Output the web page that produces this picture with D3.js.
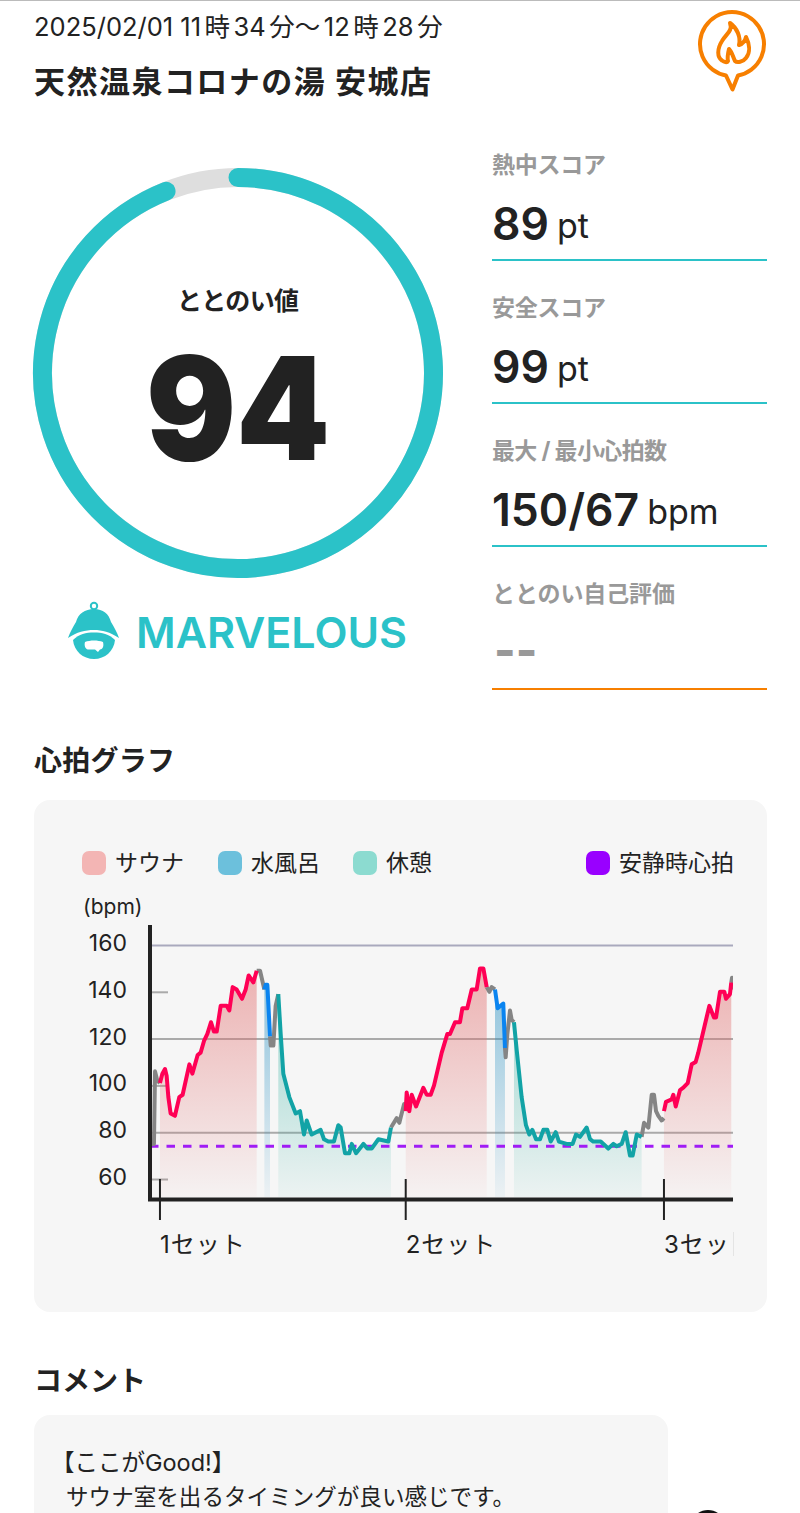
<!DOCTYPE html>
<html>
<head>
<meta charset="utf-8">
<script src="https://cdnjs.cloudflare.com/ajax/libs/d3/7.8.5/d3.min.js"></script>
<style>
html, body { margin: 0; padding: 0; background: #fff; }
svg { display: block; }
text { font-family: Inter, "Noto Sans CJK JP", sans-serif; fill: #222; }
</style>
</head>
<body>
<svg id="page" width="800" height="1513"></svg>
<script>
// header + scores
var dateParts = ["2025/02/01 11", "時", "34", "分〜", "12", "時", "28", "分"]
var placeName = "天然温泉コロナの湯 安城店"
var ringValue = 94
var ringLabel = "ととのい値"
var rankLabel = "MARVELOUS"
var scoreLabels = ["熱中スコア", "安全スコア", "最大 / 最小心拍数", "ととのい自己評価"]
var scoreValues = ["89", "99", "150/67", "--"]
var scoreUnits = ["pt", "pt", "bpm", ""]

// heart rate, [minutes since start, bpm]
var gray0 = [[0,75],[.33,75],[.42,106],[.61,102],[.83,101]]
var sauna1 = [[.83,101],[1.03,105],[1.25,107],[1.39,104],[1.53,95],[1.72,88],[2.08,87],[2.44,95],[2.72,96],[3.28,109],[3.53,105],[3.97,113],[4.22,114],[4.5,119],[4.78,122],[5.08,127],[5.33,123],[5.56,123],[5.89,134],[6.39,134],[6.61,132],[6.89,142],[7.22,141],[7.67,137],[7.97,141],[8.22,147],[8.61,144],[8.89,149]]
var gray1 = [[8.89,149],[9.17,149],[9.53,141]]
var cold1 = [[9.53,141],[9.64,143],[9.78,143],[10,121]]
var gray2 = [[10,121],[10.06,117],[10.28,117],[10.47,134],[10.69,139]]
var rest1 = [[10.69,139],[10.89,122],[11.11,105],[11.61,95],[12.14,88],[12.5,89],[12.83,79],[13.06,85],[13.47,79],[14.22,81],[14.5,77],[14.86,76],[15.33,76],[15.69,83],[15.89,82],[16.25,71],[16.61,71],[16.81,75],[17.17,71],[17.78,75],[18.11,73],[18.47,73],[19.03,77],[19.86,76],[20.08,82]]
var gray3 = [[20.08,82],[20.56,86],[20.78,84],[21.17,92],[21.31,92]]
var sauna2 = [[21.31,89],[21.39,97],[21.61,89],[21.81,96],[22.17,91],[22.78,99],[23.06,96],[23.39,96],[23.67,100],[24.31,114],[24.78,122],[25,122],[25.42,127],[25.83,127],[26.03,133],[26.44,133],[26.81,141],[27.22,141],[27.5,150],[27.78,150],[28.06,142]]
var gray4 = [[28.06,142],[28.28,140],[28.47,142],[28.75,141]]
var cold2 = [[28.75,141],[28.97,133],[29.44,135],[29.58,116]]
var gray5 = [[29.58,116],[29.64,112],[29.78,122],[30,132],[30.14,128],[30.33,127]]
var rest2 = [[30.33,127],[30.56,115],[30.97,95],[31.33,83],[31.61,79],[31.86,81],[32.17,77],[32.5,77],[32.78,81],[33.11,81],[33.39,76],[33.81,80],[34.08,76],[34.72,75],[35.22,75],[35.5,79],[35.83,78],[36.39,82],[36.67,77],[36.94,76],[37.56,76],[38.19,73],[38.61,75],[38.89,74],[39.31,75],[39.64,80],[40,70],[40.22,70],[40.56,79],[40.97,78]]
var gray6 = [[40.97,78],[41.17,84],[41.53,82],[41.81,96],[42,96],[42.17,89],[42.36,87],[42.64,85],[42.83,86]]
var sauna3 = [[42.83,89],[43,93],[43.47,94],[43.61,96],[43.81,91],[44.17,98],[44.44,99],[44.81,101],[45.14,109],[45.47,110],[45.69,114],[46.61,134],[47,129],[47.17,129],[47.5,140],[47.86,140],[48,137],[48.33,139],[48.44,144]]
var gray7 = [[48.44,144],[48.5,146],[48.61,141]]

var saunaPhases = [sauna1, sauna2, sauna3]
var coldPhases = [cold1, cold2]
var restPhases = [rest1, rest2]
var otherPhases = [gray0, gray1, gray2, gray3, gray4, gray5, gray6, gray7]

var restingHr = 74
var setStarts = [.83, 21.31, 42.83]
var setLabels = ["1セット", "2セット", "3セット"]
var gridTicks = [160, 120, 80]
var minorTicks = [140, 100, 60]
var yTickLabels = [160, 140, 120, 100, 80, 60]
var legendLabels = ["サウナ", "水風呂", "休憩", "安静時心拍"]
var legendColors = ["#f3b5b4", "#6cc0dc", "#8cdbd0", "#9900ff"]

var TEAL = "#2bc2c8"
var svg = d3.select("#page")

function label(x, y, str, size, weight, color, anchor) {
    return svg.append("text")
        .attr("x", x).attr("y", y)
        .attr("font-size", size)
        .attr("font-weight", weight || 400)
        .attr("text-anchor", anchor || "start")
        .style("fill", color || "#222")
        .text(str)
}

function drawHeader() {
    svg.append("rect").attr("width", 800).attr("height", 1).attr("fill", "#bbb")

    var date = label(34, 36, "", 25.5, 400, "#222")
    date.selectAll("tspan").data(dateParts).join("tspan")
        .attr("dx", function(d, i) { return i ? 3.5 : 0 })
        .text(function(d) { return d })

    label(34, 93, placeName, 31, 700, "#222").attr("textLength", 397)

    // flame badge
    var badge = svg.append("g").attr("fill", "none").attr("stroke", "#f77f00")
        .attr("stroke-width", 4).attr("stroke-linejoin", "round").attr("stroke-linecap", "round")
    badge.append("path").attr("d", "M726 75.5A32 32 0 1 1 738 75.5L732.5 89.5Z")
    badge.append("path").attr("d", "M730 23C733 31 726 34 722 41C717 49 717 57 722 60.5C724 62 727 63 728 61C727 57 728 53 729 49C732 52 733 57 735 61C737 63 743 62 746 58C751 52 749 43 746 37C745 42 742 44 739 45C741 37 737 28 730 23Z")
}

function ringPath(value, angle) {
    var p = d3.path()
    p.arc(0, 0, 195.5, -Math.PI / 2, -Math.PI / 2 + angle(value))
    return p.toString()
}

function drawRing() {
    var cx = 238, cy = 373
    var angle = d3.scaleLinear().domain([0, 100]).range([0, 2 * Math.PI])
    var g = svg.append("g").attr("transform", "translate(" + cx + "," + cy + ")")
        .attr("fill", "none").attr("stroke-width", 19).attr("stroke-linecap", "round")

    g.append("circle").attr("r", 195.5).attr("stroke", "#dedede")
    g.append("path").attr("stroke", TEAL).attr("d", ringPath(ringValue, angle))

    label(cx, 310, ringLabel, 25, 700, "#222", "middle").attr("textLength", 122)
    label(cx, 460, ringValue, 143, 900, "#222", "middle").attr("textLength", 184).attr("lengthAdjust", "spacingAndGlyphs")

    // mascot
    var m = svg.append("g").attr("fill", TEAL)
    m.append("circle").attr("cx", 94).attr("cy", 606).attr("r", 3.2).attr("fill", "none").attr("stroke", TEAL).attr("stroke-width", 2)
    m.append("path").attr("d", "M94 609C103 609 109 614 111 622C114 627 117 632 119 638C110 632 102 630 94 630C85 630 77 632 68 638C70 632 73 627 76 622C78 614 85 609 94 609Z")
    m.append("path").attr("d", "M73 640C79 634 86 632.5 94 632.5C102 632.5 109 634 115 640C114 651 105 659 94 659C83 659 74 651 73 640Z")
    m.append("path").attr("fill", "#fff").attr("d", "M85 642C90 640 98 640 103 642C104 646 103 649 100 649.5L98 652L95 649.5L88 649.5C85 649 84 645 85 642Z")
    label(136, 648, rankLabel, 43, 600, TEAL).attr("textLength", 271)
}

function drawScores() {
    var rowY = d3.scaleLinear().domain([0, 1]).range([173, 316])
    var labelWidths = [114, 114, 175, 183]
    scoreLabels.forEach(function(name, i) {
        var top = rowY(i)
        label(492, top, name, 23, 700, "#999").attr("textLength", labelWidths[i])
        var isEmpty = scoreValues[i] == "--"
        var v = label(492, top + 67, scoreValues[i], 44.5, 600, isEmpty ? "#999" : "#222")
        if (isEmpty) v.attr("y", top + 65).attr("x", 494).attr("font-size", 46).attr("font-weight", 800)
        var w = v.node().getComputedTextLength()
        if (scoreUnits[i]) label(492 + w + 8, top + 65, scoreUnits[i], 34, 400, "#222")
        svg.append("rect").attr("x", 492).attr("y", top + 86).attr("width", 275).attr("height", 2)
            .attr("fill", isEmpty ? "#f77f00" : TEAL)
    })
}

function addGradient(id, color, topOpacity, bottomOpacity, y0, y1) {
    var grad = svg.select("defs").append("linearGradient").attr("id", id)
        .attr("gradientUnits", "userSpaceOnUse")
        .attr("x1", 0).attr("x2", 0).attr("y1", y0).attr("y2", y1)
    grad.append("stop").attr("offset", 0).attr("stop-color", color).attr("stop-opacity", topOpacity)
    grad.append("stop").attr("offset", 1).attr("stop-color", color).attr("stop-opacity", bottomOpacity)
}

function drawChart() {
    label(34, 771, "心拍グラフ", 28, 700, "#222").attr("textLength", 141)
    svg.append("rect").attr("x", 34).attr("y", 800).attr("width", 733).attr("height", 512).attr("rx", 16).attr("fill", "#f6f6f6")

    // legend
    var legendX = [82, 218, 353, 586]
    legendLabels.forEach(function(name, i) {
        svg.append("rect").attr("x", legendX[i]).attr("y", 851).attr("width", 24).attr("height", 24).attr("rx", 7).attr("fill", legendColors[i])
        label(legendX[i] + 33, 871, name, 23, 400, "#222")
    })
    label(83, 914, "(bpm)", 21, 400, "#222")

    var x = d3.scaleLinear().domain([0, 54]).range([150, 798])
    var y = d3.scaleLinear().domain([160, 60]).range([945, 1179])
    var baseValue = y.invert(1197)

    var defs = svg.append("defs")
    defs.append("clipPath").attr("id", "plotClip").append("rect")
        .attr("x", 148).attr("y", 920).attr("width", 585).attr("height", 350)
    addGradient("saunaFill", "#e26d6d", .5, .03, y(150), y(baseValue))
    addGradient("coldFill", "#2f94c4", .55, .05, y(150), y(baseValue))
    addGradient("restFill", "#2fb0a0", .5, .05, y(150), y(baseValue))

    var plot = svg.append("g").attr("clip-path", "url(#plotClip)")

    // y grid: long lines and short ticks
    var grid = plot.append("g").attr("transform", "translate(150,0)")
        .call(d3.axisRight(y).tickValues(gridTicks).tickSize(584).tickFormat(""))
    grid.select(".domain").remove()
    grid.selectAll("line").attr("stroke", function(d) { return d == 160 ? "#a9a9bd" : "#aaa" }).attr("stroke-width", 2)

    var minor = plot.append("g").attr("transform", "translate(150,0)")
        .call(d3.axisRight(y).tickValues(minorTicks).tickSize(18).tickFormat(""))
    minor.select(".domain").remove()
    minor.selectAll("line").attr("stroke", "#aaa").attr("stroke-width", 2)

    var area = d3.area().x(function(d) { return x(d[0]) }).y0(y(baseValue)).y1(function(d) { return y(d[1]) })
    var line = d3.line().x(function(d) { return x(d[0]) }).y(function(d) { return y(d[1]) })

    function fills(data, id) {
        plot.append("g").selectAll("path").data(data).join("path")
            .attr("d", area).attr("fill", "url(#" + id + ")")
    }
    fills(saunaPhases, "saunaFill")
    fills(coldPhases, "coldFill")
    fills(restPhases, "restFill")

    // resting heart rate
    plot.append("line").attr("x1", x(0)).attr("x2", 733).attr("y1", y(restingHr)).attr("y2", y(restingHr))
        .attr("stroke", "#a01cf5").attr("stroke-width", 3).attr("stroke-dasharray", "8.5 8")

    function strokes(data, color) {
        plot.append("g").selectAll("path").data(data).join("path")
            .attr("d", line).attr("fill", "none").attr("stroke", color)
            .attr("stroke-width", 4).attr("stroke-linejoin", "round")
    }
    strokes(otherPhases, "#858585")
    strokes(saunaPhases, "#ff0055")
    strokes(coldPhases, "#0a84f0")
    strokes(restPhases, "#12a3a6")

    // axes
    svg.append("line").attr("x1", 150).attr("x2", 150).attr("y1", 925).attr("y2", 1201).attr("stroke", "#222").attr("stroke-width", 4)
    svg.append("line").attr("x1", 148).attr("x2", 733).attr("y1", 1199.5).attr("y2", 1199.5).attr("stroke", "#222").attr("stroke-width", 4)

    yTickLabels.forEach(function(v) {
        label(127, y(v) + 6, v, 23, 400, "#222", "end")
    })

    var sets = svg.append("g").attr("clip-path", "url(#plotClip)")
    setStarts.forEach(function(t, i) {
        sets.append("line").attr("x1", x(t)).attr("x2", x(t)).attr("y1", 1179).attr("y2", 1220).attr("stroke", "#222").attr("stroke-width", 2)
        sets.append("text").attr("x", x(t)).attr("y", 1253).attr("font-size", 24).attr("letter-spacing", 1).text(setLabels[i])
    })
    svg.append("line").attr("x1", 733.5).attr("x2", 733.5).attr("y1", 1232).attr("y2", 1256).attr("stroke", "#e4e4e4").attr("stroke-width", 1)
}

function drawComment() {
    label(34, 1391, "コメント", 28, 700, "#222")
    svg.append("rect").attr("x", 34).attr("y", 1415).attr("width", 634).attr("height", 140).attr("rx", 16).attr("fill", "#f6f6f6")
    label(51, 1471, "【ここがGood!】", 23.5, 400, "#222")
    label(66, 1505, "サウナ室を出るタイミングが良い感じです。", 22.5, 400, "#222").attr("textLength", 449)
    svg.append("ellipse").attr("cx", 708).attr("cy", 1522).attr("rx", 15).attr("ry", 12).attr("fill", "#111")
}

window.onload = function(event) {
    drawHeader()
    drawRing()
    drawScores()
    drawChart()
    drawComment()
}
</script>
</body>
</html>
